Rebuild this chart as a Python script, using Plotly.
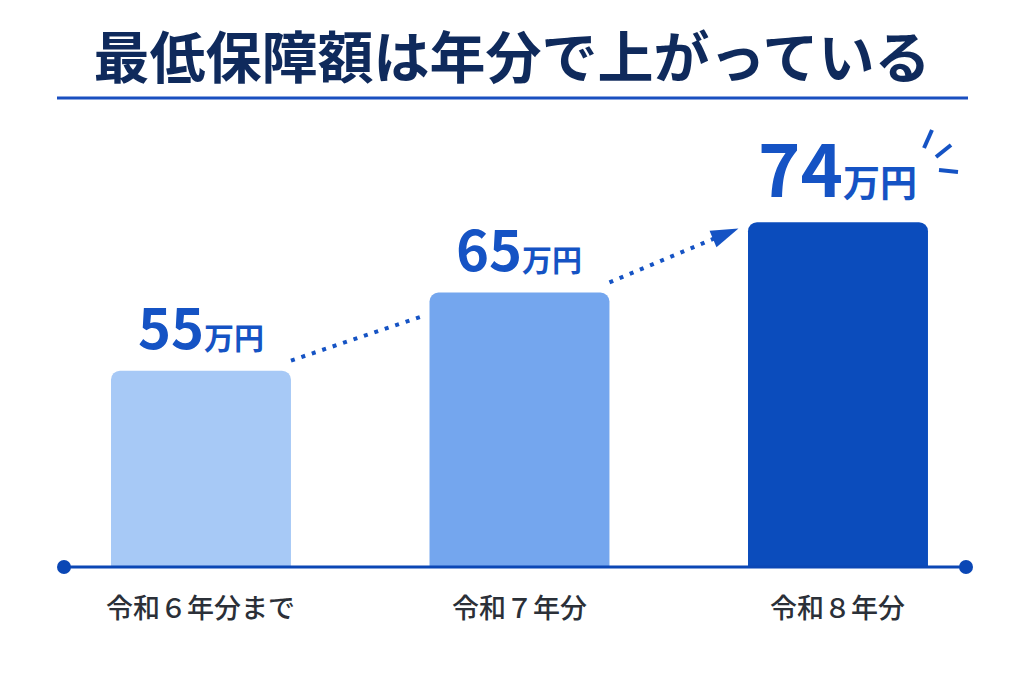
import plotly.graph_objects as go

# ---- data ----
categories = ["令和６年分まで", "令和７年分", "令和８年分"]
values = [55, 65, 74]          # 万円
value_units = ["万円", "万円", "万円"]
bar_colors = ["#A7C9F6", "#74A6EE", "#0B4CBC"]
title_text = "最低保障額は年分で上がっている"

W, H = 1024, 683
PLOT_BOTTOM_PX = 567            # baseline pixel row
Y0 = 29.9                       # value at baseline
PX_PER_UNIT = 7.82
Y1 = Y0 + PLOT_BOTTOM_PX / PX_PER_UNIT
X0, X1 = -0.631, 2.584
BAR_W = 0.565

BLUE = "#1553C4"
NAVY = "#0F2A5C"
FONT = "Noto Sans CJK JP"

xs = list(range(len(categories)))

def ppx(x):  # pixel x -> paper
    return x / W

def ppy(y):  # pixel y -> paper
    return (PLOT_BOTTOM_PX - y) / PLOT_BOTTOM_PX

fig = go.Figure()
fig.add_trace(go.Bar(
    x=xs, y=values, width=BAR_W,
    marker=dict(color=bar_colors, line=dict(width=0)),
    hoverinfo="skip",
))

# dotted trend arrows between bars (derived from data positions)
for i in range(len(values) - 1):
    last = i == len(values) - 2
    xa = xs[i] + BAR_W / 2 + 0.0
    ya = values[i] + 1.3
    xb = xs[i + 1] - BAR_W / 2 - (0.03 if last else 0.02)
    yb = values[i + 1] - (0.8 if last else 3.0)
    fig.add_trace(go.Scatter(
        x=[xa, xb], y=[ya, yb], mode="lines+markers" if last else "lines",
        line=dict(color=BLUE, width=4, dash="4px,7px"),
        marker=dict(symbol="arrow", size=[0, 29], color=BLUE, angleref="previous",
                    opacity=1, line=dict(width=0)),
        hoverinfo="skip",
    ))

annotations = []
for i, (v, u) in enumerate(zip(values, value_units)):
    big = i == len(values) - 1
    fs, fs2 = (72, 37) if big else (56, 30)
    annotations.append(dict(
        x=xs[i], y=v, xref="x", yref="y", yanchor="bottom",
        yshift=2 if big else 4,
        text=f"<b>{v}</b><b><span style='font-size:{fs2}px'>{u}</span></b>",
        showarrow=False, font=dict(family=FONT, size=fs, color=BLUE),
    ))
    annotations.append(dict(
        x=xs[i], y=ppy(606), xref="x", yref="paper", yanchor="middle",
        text=categories[i], showarrow=False,
        font=dict(family=FONT, size=27, color="#2B3038", weight=500),
    ))

shapes = [
    # title underline
    dict(type="line", xref="paper", yref="paper", x0=ppx(57), x1=ppx(968),
         y0=ppy(98), y1=ppy(98), line=dict(color="#1A4FC0", width=3)),
    # baseline
    dict(type="line", xref="paper", yref="paper", x0=ppx(64), x1=ppx(966),
         y0=0, y1=0, line=dict(color="#0B47B5", width=3)),
]
for cx in (64, 966):
    shapes.append(dict(type="circle", xref="paper", yref="paper",
                       xsizemode="pixel", ysizemode="pixel",
                       xanchor=ppx(cx), yanchor=0, x0=-7, x1=7, y0=-7, y1=7,
                       fillcolor="#0B47B5", line=dict(width=0)))
# sparkle strokes near the last value label
for (xa, ya, xb, yb) in [(924, 148, 932, 130), (936, 157, 951, 145), (939, 170, 958, 172)]:
    shapes.append(dict(type="line", xref="paper", yref="paper",
                       x0=ppx(xa), y0=ppy(ya), x1=ppx(xb), y1=ppy(yb),
                       line=dict(color=BLUE, width=4)))

fig.update_layout(
    width=W, height=H,
    margin=dict(l=0, r=0, t=0, b=H - PLOT_BOTTOM_PX),
    paper_bgcolor="white", plot_bgcolor="white",
    showlegend=False,
    barcornerradius=9,
    title=dict(text=f"<b>{title_text}</b>", x=0.5, xanchor="center",
               y=1 - 58 / H, yanchor="middle", yref="container",
               font=dict(family=FONT, size=56, color=NAVY)),
    xaxis=dict(range=[X0, X1], visible=False, fixedrange=True),
    yaxis=dict(range=[Y0, Y1], visible=False, fixedrange=True),
    annotations=annotations, shapes=shapes,
)

fig.write_html("out.html")
